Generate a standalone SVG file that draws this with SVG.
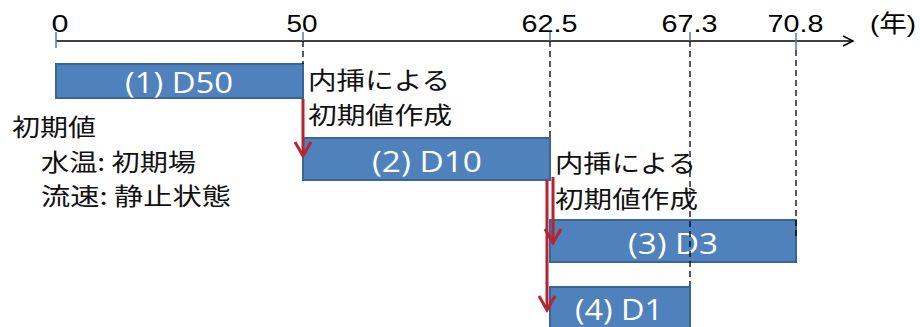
<svg xmlns="http://www.w3.org/2000/svg" width="920" height="327" viewBox="0 0 920 327">
  <style>
    .bar { fill: #4f81bd; stroke: #3b6594; stroke-width: 2; }
    .barText { font-family: "Open Sans", "Noto Sans", sans-serif; font-size: 29px; fill: #ffffff; text-anchor: middle; }
    .jp { font-family: "Noto Sans CJK JP", sans-serif; font-size: 24px; fill: #111111; }
    .num { font-family: "Liberation Sans", Arial, sans-serif; font-size: 24px; fill: #000000; text-anchor: middle; }
    .tick { stroke: #4a7ebb; stroke-width: 1.5; }
    .dash { stroke: #000000; stroke-width: 1.3; stroke-dasharray: 6 4; fill: none; }
    .axis { stroke: #000000; stroke-width: 1.5; fill: none; }
    .red { stroke: #b8232f; stroke-width: 3; fill: none; }
  </style>
  <defs>
    <marker id="axisHead" markerUnits="userSpaceOnUse" viewBox="-12 -7 14 14" markerWidth="14" markerHeight="14" refX="0" refY="0" orient="auto" overflow="visible">
      <path d="M-10,-5 L0,0 L-10,5" fill="none" stroke="#000000" stroke-width="1.5"/>
    </marker>
    <marker id="redHead" markerUnits="userSpaceOnUse" viewBox="-16 -10 20 20" markerWidth="20" markerHeight="20" refX="0" refY="0" orient="auto" overflow="visible">
      <path d="M-14,-8 L0,0 L-14,8" fill="none" stroke="#b8232f" stroke-width="3"/>
    </marker>
  </defs>
  <rect width="920" height="327" fill="#ffffff"/>

  <g id="axis">
    <line class="axis" x1="56" y1="41" x2="853" y2="41" marker-end="url(#axisHead)"/>
    <line class="tick" x1="56" y1="32" x2="56" y2="48"/>
    <line class="tick" x1="303" y1="32" x2="303" y2="41"/>
    <line class="tick" x1="550" y1="32" x2="550" y2="41"/>
    <line class="tick" x1="690" y1="32" x2="690" y2="41"/>
    <line class="tick" x1="796" y1="33" x2="796" y2="50"/>
    <text class="num" x="60" y="32" textLength="17" lengthAdjust="spacingAndGlyphs">0</text>
    <text class="num" x="302" y="32" textLength="31" lengthAdjust="spacingAndGlyphs">50</text>
    <text class="num" x="549.5" y="32" textLength="56" lengthAdjust="spacingAndGlyphs">62.5</text>
    <text class="num" x="689.5" y="32" textLength="56" lengthAdjust="spacingAndGlyphs">67.3</text>
    <text class="num" x="795.5" y="32" textLength="56" lengthAdjust="spacingAndGlyphs">70.8</text>
    <text x="870" y="32" textLength="46" lengthAdjust="spacingAndGlyphs" style="font-family: 'Liberation Sans', 'Noto Sans CJK JP', sans-serif; font-size: 24px; fill: #000000;">(年)</text>
  </g>

  <g id="bar-d50">
    <rect class="bar" x="56" y="64" width="247" height="34"/>
    <text class="barText" x="179" y="93" textLength="108" lengthAdjust="spacingAndGlyphs">(1) D50</text>
  </g>
  <g id="bar-d10">
    <rect class="bar" x="303" y="138" width="247" height="42"/>
    <text class="barText" x="427" y="172" textLength="110" lengthAdjust="spacingAndGlyphs">(2) D10</text>
  </g>
  <g id="bar-d3">
    <rect class="bar" x="550" y="220" width="246" height="42"/>
    <text class="barText" x="673" y="254" textLength="90" lengthAdjust="spacingAndGlyphs">(3) D3</text>
  </g>
  <g id="bar-d1">
    <rect class="bar" x="550" y="287" width="140" height="46"/>
    <text class="barText" x="619" y="320" textLength="88" lengthAdjust="spacingAndGlyphs">(4) D1</text>
  </g>

  <g id="guides">
    <line class="dash" x1="303" y1="41" x2="303" y2="64"/>
    <line class="dash" x1="550" y1="41" x2="550" y2="137"/>
    <line class="dash" x1="690" y1="41" x2="690" y2="286"/>
    <line class="dash" x1="796" y1="50" x2="796" y2="236"/>
  </g>

  <g id="label-initial">
    <text class="jp" x="12" y="136" textLength="84" lengthAdjust="spacingAndGlyphs">初期値</text>
    <text class="jp" x="41" y="171" textLength="155" lengthAdjust="spacingAndGlyphs">水温: 初期場</text>
    <text class="jp" x="41" y="205" textLength="190" lengthAdjust="spacingAndGlyphs">流速: 静止状態</text>
  </g>
  <g id="label-interp1">
    <text class="jp" x="308" y="89" textLength="142" lengthAdjust="spacingAndGlyphs">内挿による</text>
    <text class="jp" x="308" y="124" textLength="144" lengthAdjust="spacingAndGlyphs">初期値作成</text>
  </g>
  <g id="label-interp2">
    <text class="jp" x="555" y="172" textLength="141" lengthAdjust="spacingAndGlyphs">内挿による</text>
    <text class="jp" x="555" y="208" textLength="143" lengthAdjust="spacingAndGlyphs">初期値作成</text>
  </g>

  <g id="connectors">
    <line class="red" x1="303" y1="99" x2="303" y2="156" marker-end="url(#redHead)"/>
    <line class="red" x1="553" y1="177" x2="553" y2="243" marker-end="url(#redHead)"/>
    <line class="red" x1="547" y1="180" x2="547" y2="310" marker-end="url(#redHead)"/>
  </g>
</svg>
